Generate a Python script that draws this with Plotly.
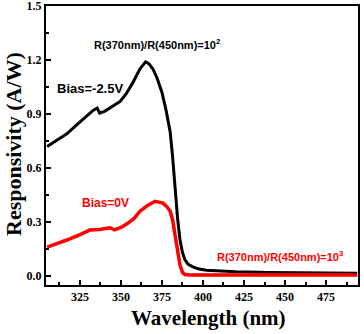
import plotly.graph_objects as go

# Bias = -2.5 V (black)
wl_black = [305, 311, 317, 323, 329, 333, 335.5, 337, 340, 343, 346, 349.5, 353, 357, 361.5, 363.5, 365, 367, 369.5, 372, 375, 377.5, 380, 381.5, 383, 384.5, 386, 387.5, 389, 391, 393.5, 397, 402, 410, 420, 440, 460, 480, 494]
resp_black = [0.72, 0.755, 0.79, 0.84, 0.89, 0.92, 0.933, 0.905, 0.915, 0.933, 0.95, 0.97, 1.01, 1.07, 1.15, 1.175, 1.19, 1.18, 1.15, 1.10, 1.02, 0.92, 0.80, 0.66, 0.48, 0.32, 0.2, 0.13, 0.09, 0.065, 0.052, 0.04, 0.032, 0.027, 0.024, 0.02, 0.018, 0.016, 0.015]

# Bias = 0 V (red)
wl_red = [305, 310, 317, 325, 331, 337, 341, 343.3, 346, 350, 353.7, 358, 361.6, 366, 370.8, 373, 375.6, 378, 380, 381.5, 383, 384.5, 386, 387.5, 389, 392, 400, 420, 450, 480, 494]
resp_red = [0.16, 0.175, 0.20, 0.23, 0.255, 0.258, 0.262, 0.268, 0.256, 0.27, 0.29, 0.32, 0.36, 0.39, 0.415, 0.412, 0.405, 0.385, 0.36, 0.31, 0.23, 0.14, 0.06, 0.02, 0.008, 0.005, 0.005, 0.005, 0.005, 0.005, 0.005]

x_ticks = [325, 350, 375, 400, 425, 450, 475]
y_ticks = [0.0, 0.3, 0.6, 0.9, 1.2, 1.5]

fig = go.Figure()
fig.add_trace(go.Scatter(x=wl_black, y=resp_black, mode="lines",
                         line=dict(color="#000000", width=3), showlegend=False))
fig.add_trace(go.Scatter(x=wl_red, y=resp_red, mode="lines",
                         line=dict(color="#ff0000", width=3.5), showlegend=False))

serif = "Liberation Serif, Times New Roman, serif"
tickfont = dict(family=serif, size=12, color="#000", weight="bold")

fig.update_xaxes(range=[304.3, 494.5], tickvals=x_ticks, ticktext=["%d" % v for v in x_ticks],
                 ticks="inside", ticklen=5, tickwidth=2, tickcolor="#000",
                 showline=True, linewidth=2, linecolor="#000", mirror=True,
                 showgrid=False, zeroline=False, tickfont=tickfont, automargin=False,
                 ticklabeloverflow="allow",
                 minor=dict(dtick=12.5, tick0=312.5, ticks="inside", ticklen=3, tickwidth=2, tickcolor="#000", showgrid=False))
fig.update_yaxes(range=[-0.05, 1.5], tickvals=y_ticks, ticktext=["%.1f" % v for v in y_ticks],
                 ticks="inside", ticklen=5, tickwidth=2, tickcolor="#000",
                 showline=True, linewidth=2, linecolor="#000", mirror=True,
                 showgrid=False, zeroline=False, tickfont=tickfont, automargin=False,
                 ticklabeloverflow="allow",
                 minor=dict(dtick=0.15, tick0=0.15, ticks="inside", ticklen=3, tickwidth=2, tickcolor="#000", showgrid=False))

# axis titles
fig.add_annotation(x=(208 - 46) / 312, y=(285 - 318) / 279, xref="paper", yref="paper",
                   xanchor="center", yanchor="middle", showarrow=False,
                   text="<b>Wavelength (nm)</b>", font=dict(family=serif, size=21, color="#000"))
fig.add_annotation(x=(13 - 46) / 312, y=(285 - 144) / 279, xref="paper", yref="paper",
                   xanchor="center", yanchor="middle", showarrow=False, textangle=-90,
                   text="<b>Responsivity (A/W)</b>", font=dict(family=serif, size=22, color="#000"))

afont = "Liberation Sans, Arial, sans-serif"
fig.add_annotation(x=332.3, y=1.289, xref="x", yref="y", xanchor="left", yanchor="middle",
                   text="<b>R(370nm)/R(450nm)=10<sup>2</sup></b>", showarrow=False,
                   font=dict(family=afont, size=11, color="#000"))
fig.add_annotation(x=309.8, y=1.039, xref="x", yref="y", xanchor="left", yanchor="middle",
                   text="<b>Bias=-2.5V</b>", showarrow=False,
                   font=dict(family=afont, size=13, color="#000"))
fig.add_annotation(x=325, y=0.406, xref="x", yref="y", xanchor="left", yanchor="middle",
                   text="<b>Bias=0V</b>", showarrow=False,
                   font=dict(family=afont, size=12, color="#ff0000"))
fig.add_annotation(x=407.3, y=0.111, xref="x", yref="y", xanchor="left", yanchor="middle",
                   text="<b>R(370nm)/R(450nm)=10<sup>3</sup></b>", showarrow=False,
                   font=dict(family=afont, size=11, color="#ff0000"))

fig.update_layout(width=364, height=334, margin=dict(l=46, r=6, t=6, b=49),
                  plot_bgcolor="#fff", paper_bgcolor="#fff")
fig.write_html("out.html", config={"displayModeBar": False},
               post_script="document.body.style.margin='0';")
